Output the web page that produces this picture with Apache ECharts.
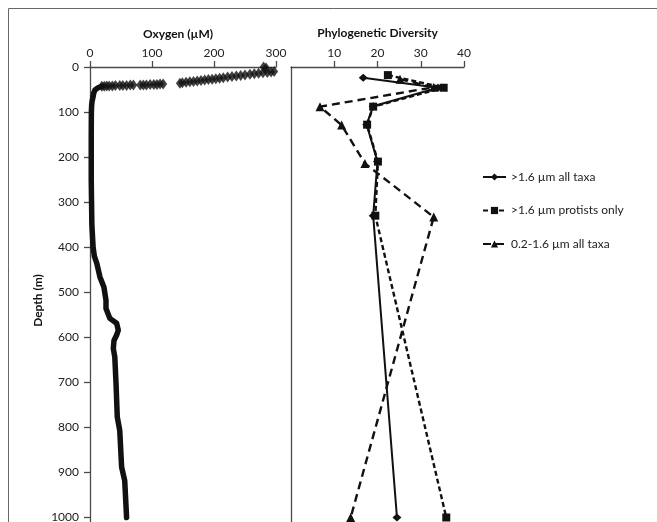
<!DOCTYPE html>
<html>
<head>
<meta charset="utf-8">
<script src="https://cdn.jsdelivr.net/npm/echarts@6/dist/echarts.min.js"></script>
<style>
html,body{margin:0;padding:0;background:#fff;}
#chart{width:657px;height:522px;}
</style>
</head>
<body>
<div id="chart"></div>
<script>
// ---- Oxygen profile (left panel) ----
// surface samples (discrete markers): oxygen (µM) and depth (m)
const oxySurfaceO = [280, 284, 297, 292, 286, 279, 272, 265, 258, 250, 243, 236, 229, 222, 215, 209, 203, 197, 191, 185, 179, 173, 167, 161, 155, 149, 145, 118, 113, 108, 103, 97, 91, 86, 81, 70, 65, 59, 53, 48, 41, 36, 31, 27, 23, 19];
const oxySurfaceD = [0, 2, 10, 11, 12, 13, 14, 15, 16, 18, 19, 20, 21, 22, 24, 25, 26, 27, 28, 29, 30, 31, 32, 33, 34, 35, 36, 38, 38, 39, 39, 39, 40, 40, 40, 40, 40, 41, 41, 41, 41, 42, 42, 42, 43, 43];
// deeper continuous profile
const oxyDeepD = [43, 46, 51, 58, 66, 75, 84, 100, 150, 200, 250, 300, 350, 400, 420, 436, 466, 489, 518, 536, 558, 569, 584, 595, 607, 625, 644, 703, 777, 807, 888, 918, 1000];
const oxyDeepO = [19, 13, 8, 6, 5, 3.5, 2.7, 2.2, 2, 2, 2, 2.5, 3, 5, 7, 11, 16, 22.5, 25.8, 25.8, 32, 43, 45.6, 43, 38.7, 37.6, 40, 42, 44, 48, 51, 56, 59];

// ---- Phylogenetic diversity (right panel) ----
const seriesNames = ['>1.6 µm all taxa', '>1.6 µm protists only', '0.2-1.6 µm all taxa'];
const allTaxaDepth = [24, 46, 87, 128, 210, 330, 1000];
const allTaxaPD    = [16.7, 34.0, 19.0, 17.5, 20.0, 19.0, 24.5];
const protistDepth = [18, 46, 88, 128, 210, 330, 1000];
const protistPD    = [22.4, 35.3, 19.0, 17.6, 20.1, 19.5, 35.9];
const smallDepth   = [27, 45, 88, 129, 214, 333, 1000];
const smallPD      = [25.2, 33.0, 6.7, 11.7, 17.1, 33.0, 13.8];

const oxyTicks = [0, 100, 200, 300];
const pdTicks = [0, 10, 20, 30, 40];

const pair = (xs, ys) => xs.map((x, i) => [x, ys[i]]);
const plain = v => String(v);

const FONT = 'Lato';
const AX = '#4a4a4a';
const INK = '#111111';

const chart = echarts.init(document.getElementById('chart'), null, {renderer: 'canvas'});

const option = {
  backgroundColor: '#fff',
  textStyle: {fontFamily: FONT},
  animation: false,
  graphic: [{
    type: 'rect', silent: true,
    shape: {x: 8.5, y: 8.5, width: 720, height: 620},
    style: {fill: 'none', stroke: '#666', lineWidth: 1}
  }],
  grid: [
    {left: 90, top: 67, width: 186, bottom: 0, containLabel: false, outerBoundsMode: 'none'},
    {left: 291, top: 67, width: 173, bottom: 0, containLabel: false, outerBoundsMode: 'none'}
  ],
  xAxis: [{
    gridIndex: 0, type: 'value', position: 'top',
    min: oxyTicks[0], max: oxyTicks[oxyTicks.length - 1], interval: 100,
    axisLine: {onZero: false, lineStyle: {color: AX, width: 1.3}},
    axisTick: {length: 6, lineStyle: {color: AX, width: 1.3}},
    axisLabel: {fontSize: 12, color: '#222', margin: 8, fontFamily: FONT, formatter: plain},
    splitLine: {show: false},
    name: 'Oxygen (µM)', nameLocation: 'middle', nameGap: 27,
    nameTextStyle: {fontSize: 12, fontWeight: 'bold', color: '#111', fontFamily: FONT, padding: [0, 10, 0, 0]}
  }, {
    gridIndex: 1, type: 'value', position: 'top',
    min: pdTicks[0], max: pdTicks[pdTicks.length - 1], interval: 10,
    axisLine: {onZero: false, lineStyle: {color: AX, width: 1.3}},
    axisTick: {length: 6, lineStyle: {color: AX, width: 1.3}},
    axisLabel: {fontSize: 12, color: '#222', margin: 8, showMinLabel: false, fontFamily: FONT, formatter: plain},
    splitLine: {show: false},
    name: 'Phylogenetic Diversity', nameLocation: 'middle', nameGap: 28,
    nameTextStyle: {fontSize: 12, fontWeight: 'bold', color: '#111', fontFamily: FONT}
  }],
  yAxis: [{
    gridIndex: 0, type: 'value', inverse: true,
    min: 0, max: 1010, interval: 100,
    axisLine: {show: true, onZero: false, lineStyle: {color: AX, width: 1.3}},
    axisTick: {show: true, length: 6, lineStyle: {color: AX, width: 1.3}},
    axisLabel: {fontSize: 12, color: '#222', margin: 11, showMaxLabel: false, fontFamily: FONT, formatter: plain},
    splitLine: {show: false},
    name: 'Depth (m)', nameLocation: 'middle', nameGap: 46, nameRotate: 90,
    nameTextStyle: {fontSize: 12, fontWeight: 'bold', color: '#111', fontFamily: FONT, padding: [0, 12, 0, 0]}
  }, {
    gridIndex: 1, type: 'value', inverse: true,
    min: 0, max: 1010, interval: 100,
    axisLine: {show: true, onZero: false, lineStyle: {color: AX, width: 1.3}},
    axisTick: {show: false},
    axisLabel: {show: false},
    splitLine: {show: false}
  }],
  legend: {
    data: seriesNames,
    orient: 'vertical',
    left: 477, top: 166,
    itemWidth: 23, itemHeight: 9, itemGap: 21.5,
    textStyle: {fontSize: 12, color: '#222', fontFamily: FONT},
    selectedMode: false
  },
  series: [
    {
      name: 'oxygen-deep', type: 'line', xAxisIndex: 0, yAxisIndex: 0,
      data: pair(oxyDeepO, oxyDeepD), showSymbol: false, symbol: 'none',
      lineStyle: {color: INK, width: 5.5, join: 'round', cap: 'round'}, z: 2
    },
    {
      name: 'oxygen-surface', type: 'scatter', xAxisIndex: 0, yAxisIndex: 0,
      data: pair(oxySurfaceO, oxySurfaceD), symbol: 'diamond', symbolSize: [8, 11],
      itemStyle: {color: INK}, z: 3
    },
    {
      name: seriesNames[0], type: 'line', xAxisIndex: 1, yAxisIndex: 1,
      data: pair(allTaxaPD, allTaxaDepth), symbol: 'diamond', symbolSize: [9, 8],
      itemStyle: {color: INK}, lineStyle: {color: INK, width: 2, type: 'solid'}, z: 4
    },
    {
      name: seriesNames[1], type: 'line', xAxisIndex: 1, yAxisIndex: 1,
      data: pair(protistPD, protistDepth), symbol: 'rect', symbolSize: 8,
      itemStyle: {color: INK}, lineStyle: {color: INK, width: 2.4, type: [5, 3]}, z: 4
    },
    {
      name: seriesNames[2], type: 'line', xAxisIndex: 1, yAxisIndex: 1,
      data: pair(smallPD, smallDepth), symbol: 'triangle', symbolSize: 9,
      itemStyle: {color: INK}, lineStyle: {color: INK, width: 2.4, type: [8, 5]}, z: 4
    }
  ]
};
chart.setOption(option);
</script>
</body>
</html>
